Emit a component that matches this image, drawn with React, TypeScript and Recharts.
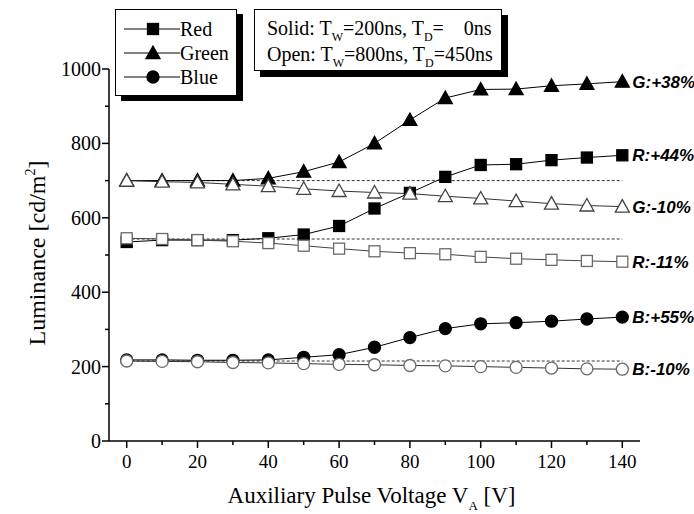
import React from 'react';
import { LineChart, Line, XAxis, YAxis, ReferenceLine, LabelList } from 'recharts';

const voltages = [0, 10, 20, 30, 40, 50, 60, 70, 80, 90, 100, 110, 120, 130, 140];
const greenSolid = [700, 700, 700, 700, 706, 724, 750, 800, 863, 922, 945, 946, 955, 960, 966];
const greenOpen = [700, 697, 695, 690, 685, 678, 672, 668, 665, 658, 652, 645, 638, 633, 630];
const redSolid = [535, 540, 540, 540, 545, 555, 578, 625, 667, 710, 742, 744, 755, 762, 768];
const redOpen = [545, 543, 540, 537, 532, 525, 517, 510, 505, 502, 495, 490, 487, 484, 482];
const blueSolid = [218, 218, 217, 217, 218, 225, 232, 252, 278, 302, 315, 318, 322, 328, 333];
const blueOpen = [215, 214, 213, 211, 210, 208, 206, 205, 203, 202, 200, 198, 196, 194, 193];
const baselines = [700, 543, 215];
const endLabels = { gS: 'G:+38%', rS: 'R:+44%', gO: 'G:-10%', rO: 'R:-11%', bS: 'B:+55%', bO: 'B:-10%' };
const xTicks = [0, 10, 20, 30, 40, 50, 60, 70, 80, 90, 100, 110, 120, 130, 140];
const yTicks = [0, 100, 200, 300, 400, 500, 600, 700, 800, 900, 1000];
const legendNames = ['Red', 'Green', 'Blue'];

const data = voltages.map((v, i) => ({
  v,
  gS: greenSolid[i],
  gO: greenOpen[i],
  rS: redSolid[i],
  rO: redOpen[i],
  bS: blueSolid[i],
  bO: blueOpen[i],
}));

const SERIF = '"Liberation Serif", "Times New Roman", serif';
const SANS = '"Liberation Sans", Arial, sans-serif';
const OPEN_STROKE = '#6a6a6a';

const Square = ({ cx, cy, filled }: any) =>
  cx == null ? null : (
    <rect x={cx - 5.5} y={cy - 5.5} width={11} height={11} fill={filled ? '#000' : '#fff'} stroke={filled ? '#000' : OPEN_STROKE} strokeWidth={1.3} />
  );
const Triangle = ({ cx, cy, filled }: any) =>
  cx == null ? null : (
    <polygon points={`${cx},${cy - 7} ${cx - 7},${cy + 5.5} ${cx + 7},${cy + 5.5}`} fill={filled ? '#000' : '#fff'} stroke={filled ? '#000' : '#444'} strokeWidth={1.3} />
  );
const Circle = ({ cx, cy, filled }: any) =>
  cx == null ? null : (
    <circle cx={cx} cy={cy} r={6} fill={filled ? '#000' : '#fff'} stroke={filled ? '#000' : OPEN_STROKE} strokeWidth={1.3} />
  );

const XTick = ({ x, y, payload }: any) => {
  const major = payload.value % 20 === 0;
  return (
    <g>
      <line x1={x} y1={y} x2={x} y2={y + (major ? 7 : 4)} stroke="#000" strokeWidth={1.5} />
      {major && (
        <text x={x} y={y + 27} textAnchor="middle" fontFamily={SERIF} fontSize={19} fill="#000">
          {payload.value}
        </text>
      )}
    </g>
  );
};

const YTick = ({ x, y, payload }: any) => {
  const major = payload.value % 200 === 0;
  return (
    <g>
      <line x1={x - (major ? 7 : 4)} y1={y} x2={x} y2={y} stroke="#000" strokeWidth={1.5} />
      {major && (
        <text x={x - 8} y={y + 7} textAnchor="end" fontFamily={SERIF} fontSize={20} fill="#000">
          {payload.value}
        </text>
      )}
    </g>
  );
};

const endLabel = (key: string) => (props: any) => {
  const { x, y, index } = props;
  if (index !== voltages.length - 1) return null;
  return (
    <text x={x + 10} y={y + 6} fontFamily={SANS} fontStyle="italic" fontWeight="bold" fontSize={17} fill="#000">
      {(endLabels as any)[key]}
    </text>
  );
};

const LegendBox = () => {
  const markers = [Square, Triangle, Circle];
  return (
    <div style={{ position: 'absolute', left: 115, top: 9, width: 130, height: 95 }}>
      <div style={{ position: 'absolute', left: 6, top: 5, width: 122, height: 87, background: '#000' }} />
      <div style={{ position: 'absolute', left: 0, top: 0, width: 122, height: 87, background: '#fff', border: '1px solid #000', boxSizing: 'border-box' }}>
        {legendNames.map((n, i) => {
          const M = markers[i];
          return (
            <div key={n} style={{ position: 'absolute', left: 0, top: 7 + i * 24, height: 24, width: 122 }}>
              <svg width={62} height={24} style={{ position: 'absolute', left: 6, top: 0 }}>
                <line x1={2} y1={12} x2={58} y2={12} stroke="#000" strokeWidth={1} />
                <M cx={31} cy={12} filled />
              </svg>
              <span style={{ position: 'absolute', left: 64, top: 0, fontFamily: SERIF, fontSize: 20, lineHeight: '24px', color: '#000' }}>{n}</span>
            </div>
          );
        })}
      </div>
    </div>
  );
};

const sub = { fontSize: 12, position: 'relative', top: 6 } as React.CSSProperties;
const line = { position: 'absolute', left: 12, height: 22, lineHeight: '22px', whiteSpace: 'pre' } as React.CSSProperties;

export default function App() {
  return (
    <div style={{ position: 'absolute', left: 0, top: 0, width: 694, height: 514, background: '#fff' }}>
      <LineChart width={694} height={514} data={data} margin={{ top: 69, right: 54, left: 49, bottom: 13 }}>
        <XAxis
          dataKey="v"
          type="number"
          domain={[-5, 145]}
          ticks={xTicks}
          interval={0}
          tickSize={0}
          tickMargin={0}
          tick={<XTick />}
          height={60}
          axisLine={{ stroke: '#000', strokeWidth: 1.5 }}
          label={(props: any) => {
            const vb = props.viewBox;
            return (
              <text x={vb.x + vb.width / 2 - 3} y={vb.y + 62} textAnchor="middle" fontFamily={SERIF} fontSize={23} fill="#000">
                Auxiliary Pulse Voltage V<tspan fontSize={13} dy={7}>A</tspan><tspan dy={-7}> [V]</tspan>
              </text>
            );
          }}
        />
        <YAxis
          type="number"
          domain={[0, 1000]}
          ticks={yTicks}
          interval={0}
          tickSize={0}
          tickMargin={0}
          tick={<YTick />}
          width={60}
          axisLine={{ stroke: '#000', strokeWidth: 1.5 }}
          label={(props: any) => {
            const vb = props.viewBox;
            const cx = 45;
            const cy = vb.y + vb.height / 2 - 2;
            return (
              <text x={cx} y={cy} transform={`rotate(-90 ${cx} ${cy})`} textAnchor="middle" fontFamily={SERIF} fontSize={24} fill="#000">
                Luminance [cd/m<tspan fontSize={14} dy={-10}>2</tspan><tspan dy={10}>]</tspan>
              </text>
            );
          }}
        />
        {baselines.map((b) => (
          <ReferenceLine key={b} segment={[{ x: 0, y: b }, { x: 140, y: b }]} stroke="#333" strokeWidth={1} strokeDasharray="3 2" ifOverflow="visible" />
        ))}
        <Line dataKey="gS" stroke="#000" strokeWidth={1} isAnimationActive={false} dot={(p: any) => <Triangle key={`gs${p.index}`} {...p} filled />}>
          <LabelList dataKey="gS" content={endLabel('gS')} />
        </Line>
        <Line dataKey="rS" stroke="#000" strokeWidth={1} isAnimationActive={false} dot={(p: any) => <Square key={`rs${p.index}`} {...p} filled />}>
          <LabelList dataKey="rS" content={endLabel('rS')} />
        </Line>
        <Line dataKey="bS" stroke="#000" strokeWidth={1} isAnimationActive={false} dot={(p: any) => <Circle key={`bs${p.index}`} {...p} filled />}>
          <LabelList dataKey="bS" content={endLabel('bS')} />
        </Line>
        <Line dataKey="gO" stroke="#333" strokeWidth={1} isAnimationActive={false} dot={(p: any) => <Triangle key={`go${p.index}`} {...p} />}>
          <LabelList dataKey="gO" content={endLabel('gO')} />
        </Line>
        <Line dataKey="rO" stroke="#444" strokeWidth={1} isAnimationActive={false} dot={(p: any) => <Square key={`ro${p.index}`} {...p} />}>
          <LabelList dataKey="rO" content={endLabel('rO')} />
        </Line>
        <Line dataKey="bO" stroke="#333" strokeWidth={1} isAnimationActive={false} dot={(p: any) => <Circle key={`bo${p.index}`} {...p} />}>
          <LabelList dataKey="bO" content={endLabel('bO')} />
        </Line>
      </LineChart>
      <LegendBox />
      <div style={{ position: 'absolute', left: 254, top: 9, width: 256, height: 70 }}>
        <div style={{ position: 'absolute', left: 6, top: 6, width: 248, height: 62, background: '#000' }} />
        <div
          style={{
            position: 'absolute', left: 0, top: 0, width: 248, height: 62, background: '#fff', border: '1px solid #000', boxSizing: 'border-box',
            fontFamily: SERIF, fontSize: 20, color: '#000',
          }}
        >
          <div style={{ ...line, top: 7 }}>Solid: T<span style={sub}>W</span>=200ns, T<span style={sub}>D</span>=    0ns</div>
          <div style={{ ...line, top: 33 }}>Open: T<span style={sub}>W</span>=800ns, T<span style={sub}>D</span>=450ns</div>
        </div>
      </div>
    </div>
  );
}
